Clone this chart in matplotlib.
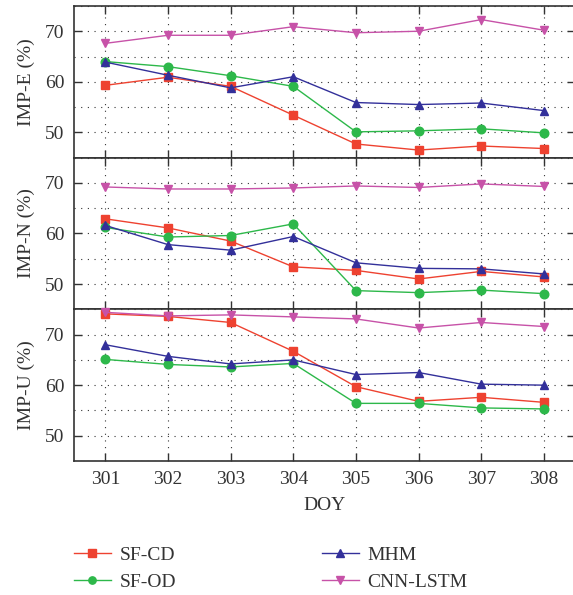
import numpy as np
import matplotlib.pyplot as plt
from matplotlib.ticker import MultipleLocator

plt.rcParams['font.family'] = ['Liberation Serif', 'DejaVu Serif']

# data
doy = [301, 302, 303, 304, 305, 306, 307, 308]
models = ['SF-CD', 'SF-OD', 'MHM', 'CNN-LSTM']
panels = ['IMP-E (%)', 'IMP-N (%)', 'IMP-U (%)']

imp_e = {
    'SF-CD':    [59.3, 60.9, 59.1, 53.4, 47.7, 46.5, 47.3, 46.8],
    'SF-OD':    [64.0, 63.0, 61.2, 59.1, 50.1, 50.3, 50.7, 49.9],
    'MHM':      [63.9, 61.3, 58.8, 61.0, 55.9, 55.5, 55.8, 54.3],
    'CNN-LSTM': [67.6, 69.2, 69.2, 70.9, 69.7, 70.0, 72.3, 70.2],
}
imp_n = {
    'SF-CD':    [62.9, 61.1, 58.5, 53.4, 52.7, 51.0, 52.5, 51.4],
    'SF-OD':    [61.2, 59.3, 59.6, 61.9, 48.7, 48.3, 48.8, 48.1],
    'MHM':      [61.6, 57.8, 56.7, 59.4, 54.2, 53.1, 53.0, 52.0],
    'CNN-LSTM': [69.2, 68.8, 68.8, 69.0, 69.4, 69.1, 69.8, 69.3],
}
imp_u = {
    'SF-CD':    [74.1, 73.6, 72.4, 66.7, 59.7, 56.8, 57.6, 56.6],
    'SF-OD':    [65.1, 64.1, 63.6, 64.3, 56.4, 56.4, 55.5, 55.3],
    'MHM':      [68.0, 65.7, 64.2, 65.0, 62.1, 62.5, 60.2, 60.0],
    'CNN-LSTM': [74.4, 73.7, 73.9, 73.5, 73.1, 71.3, 72.4, 71.6],
}

colors = {'SF-CD': '#EE4230', 'SF-OD': '#2DB84A', 'MHM': '#33309A', 'CNN-LSTM': '#C752A8'}
markers = {'SF-CD': 's', 'SF-OD': 'o', 'MHM': '^', 'CNN-LSTM': 'v'}

fig, axes = plt.subplots(3, 1, figsize=(5.73, 5.95), dpi=100, sharex=True)
fig.subplots_adjust(left=0.129, right=1.004, top=0.990, bottom=0.2252, hspace=0)

for ax, data, lab in zip(axes, [imp_e, imp_n, imp_u], panels):
    for m in models:
        ax.plot(doy, data[m], color=colors[m], marker=markers[m], ms=6.2, lw=1.0,
                label=m, clip_on=False, zorder=3)
    ax.set_xlim(300.5, 308.5)
    ax.set_ylim(45, 75)
    ax.set_yticks([50, 60, 70])
    ax.yaxis.set_minor_locator(MultipleLocator(5))
    ax.set_xticks(doy)
    ax.grid(True, which='both', axis='y', ls=(0, (1, 5)), color='#333333', lw=0.8)
    ax.grid(True, which='major', axis='x', ls=(0, (1, 5)), color='#333333', lw=0.8)
    ax.tick_params(which='major', direction='in', length=6, width=1, top=True, right=True,
                   labelsize=14, colors='#333333', pad=7)
    ax.tick_params(which='minor', length=0)
    ax.set_ylabel(lab, fontsize=14, color='#333333', labelpad=7)
    for s in ax.spines.values():
        s.set_linewidth(1.2)
        s.set_color('#333333')

axes[-1].set_xlabel('DOY', fontsize=14, color='#333333', labelpad=7)

handles, labels = axes[0].get_legend_handles_labels()
fig.legend(handles, labels, loc='upper left', bbox_to_anchor=(0.115, 0.095), ncol=2,
           frameon=False, fontsize=14, handlelength=1.9, handletextpad=0.45,
           columnspacing=7.5, labelspacing=0.5, markerscale=0.85,
           labelcolor='#333333', borderaxespad=0)

fig.savefig('out.png', dpi=100)
